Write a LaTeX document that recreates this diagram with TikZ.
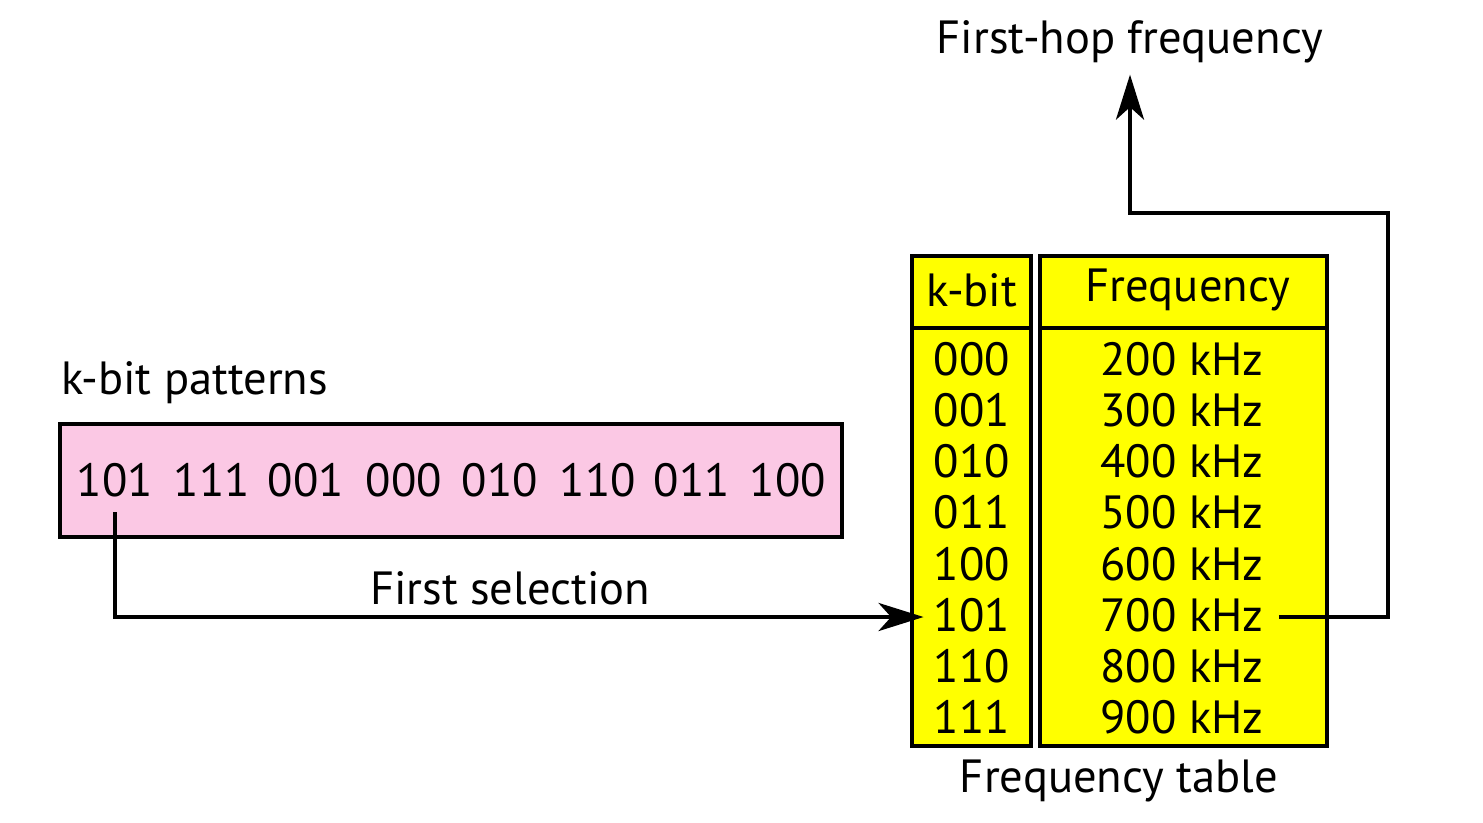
\documentclass[tikz,border=0pt]{standalone}
\usepackage{fontspec}
\setmainfont{PT Sans}
\usetikzlibrary{arrows.meta}
\definecolor{pinkfill}{RGB}{251,200,228}
\definecolor{yel}{RGB}{255,255,0}
\begin{document}
\begin{tikzpicture}[x=0.02cm,y=-0.02cm,
  every node/.style={font=\fontsize{26.5}{32}\selectfont},
  txt/.style={inner sep=0pt},
  box/.style={draw=black,line width=1.8pt,inner sep=0pt},
  conn/.style={line width=2.6pt,-{Stealth[length=0.9cm,width=0.56cm,inset=0.25cm]}}]
\useasboundingbox (0,0) rectangle (1483,822);
% title and labels
\node[inner sep=0pt] (hop) at (1130,42) {First-hop frequency};
\node[txt,anchor=west] (patlab) at (61,383) {k-bit patterns};
\node[txt] (sel) at (510,588) {First selection};
\node[txt] (ftab) at (1119,781) {Frequency table};
% pattern box
\node[box,fill=pinkfill,minimum width=15.64cm,minimum height=2.26cm] (pat) at (451,480.5) {};
\foreach \i/\x/\t in {1/115/101,2/212/111,3/306/001,4/404/000,5/500/010,6/598/110,7/692/011,8/788/100}
  \node[txt] (p\i) at (\x,480) {\t};
% table columns
\node[box,fill=yel,minimum width=2.38cm,minimum height=9.8cm] (kcol) at (971.5,501) {};
\node[box,fill=yel,minimum width=5.74cm,minimum height=9.8cm] (fcol) at (1183.5,501) {};
\draw[line width=1.8pt] (kcol.west |- 0,328) -- (kcol.east |- 0,328);
\draw[line width=1.8pt] (fcol.west |- 0,328) -- (fcol.east |- 0,328);
\node[txt] (khead) at (972,290) {k-bit};
\node[txt] (fhead) at (1188,290) {Frequency};
\foreach \i/\k/\f in {1/000/200,2/001/300,3/010/400,4/011/500,5/100/600,6/101/700,7/110/800,8/111/900}{
  \node[inner sep=0.2cm] (k\i) at (972,{359+51.2*(\i-1)}) {\k};
  \node[inner sep=0.2cm] (f\i) at (1182,{359+51.2*(\i-1)}) {\f\ kHz};
}
% connectors
\coordinate (c1) at (1388,213);
\draw[conn] ([yshift=-0.3cm]p1.south) |- ([yshift=-0.04cm]k6.west);
\draw[conn] ([yshift=-0.04cm,xshift=0.1cm]f6.east) -| (c1) -| ([yshift=-0.22cm]hop.south);
\end{tikzpicture}
\end{document}
